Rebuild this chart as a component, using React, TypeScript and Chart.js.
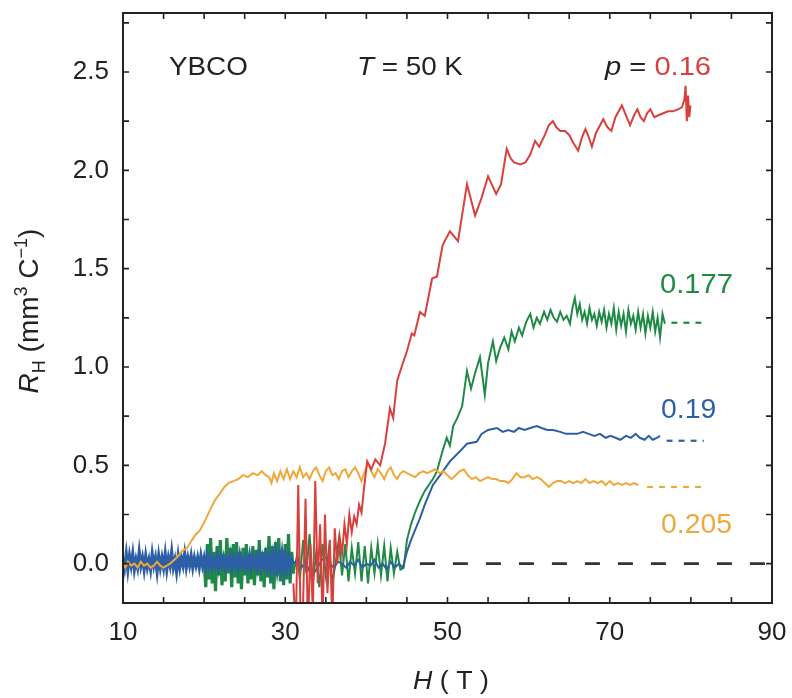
import React, { useEffect, useRef } from "react";
import { Chart, registerables } from "chart.js";

Chart.register(...registerables);

type P = [number, number];

// x axis (H, tesla) and y axis (R_H) ranges / tick marks / tick labels
const xRange: P = [10, 90];
const yRange: P = [-0.2, 2.8];
const xTickMarks = [10, 15, 20, 25, 30, 35, 40, 45, 50, 55, 60, 65, 70, 75, 80, 85, 90];
const yTickMarks = [0, 0.25, 0.5, 0.75, 1.0, 1.25, 1.5, 1.75, 2.0, 2.25, 2.5, 2.75];
const xLabelled = [10, 30, 50, 70, 90];
const yLabelled = [0, 0.5, 1.0, 1.5, 2.0, 2.5];

// p = 0.16 (red)
const red016: P[] = [
  [31.0, -0.1], [31.3, -0.35], [31.6, 0.4], [31.9, -0.3], [32.2, -0.2], [32.5, 0.33], [32.8, -0.35],
  [33.1, 0.1], [33.4, -0.25], [33.7, 0.42], [34.0, -0.1], [34.3, 0.2], [34.6, -0.3], [34.9, 0.25],
  [35.2, -0.15], [35.5, 0.12], [35.8, -0.3], [36.1, 0.18], [36.4, 0.0], [36.7, 0.14], [37.0, 0.05],
  [37.3, 0.2], [37.6, 0.1], [37.9, 0.25], [38.2, 0.16], [38.5, 0.24], [38.8, 0.2], [39.1, 0.3],
  [39.4, 0.26], [39.7, 0.38], [40.1, 0.52], [40.6, 0.48], [41.1, 0.53], [41.7, 0.5], [42.3, 0.61],
  [42.9, 0.79], [43.3, 0.74], [43.8, 0.93], [44.5, 1.02], [45.0, 1.08], [45.6, 1.17], [45.9, 1.16],
  [46.6, 1.28], [47.2, 1.26], [48.1, 1.45], [48.7, 1.46], [49.4, 1.62], [50.3, 1.69], [51.3, 1.64],
  [52.4, 1.93], [53.4, 1.77], [54.2, 1.86], [55.0, 1.97], [56.0, 1.88], [56.6, 1.93], [57.3, 2.11],
  [57.8, 2.06], [58.2, 2.04], [59.0, 2.03], [59.6, 2.04], [60.2, 2.08], [60.8, 2.15], [61.3, 2.12],
  [62.0, 2.18], [62.5, 2.23], [63.0, 2.25], [63.4, 2.22], [63.9, 2.2], [64.5, 2.2], [65.0, 2.18],
  [65.5, 2.14], [66.1, 2.1], [66.6, 2.17], [67.0, 2.21], [67.4, 2.17], [67.8, 2.12], [68.3, 2.19],
  [69.2, 2.26], [69.7, 2.22], [70.2, 2.2], [70.7, 2.27], [71.5, 2.33], [72.0, 2.28], [72.5, 2.23],
  [73.0, 2.28], [73.4, 2.31], [73.8, 2.27], [74.2, 2.25], [74.6, 2.29], [75.0, 2.31], [75.5, 2.27],
  [76.0, 2.28], [76.6, 2.29], [77.2, 2.3], [77.8, 2.3], [78.4, 2.31], [78.9, 2.32], [79.2, 2.36],
  [79.35, 2.43], [79.5, 2.25], [79.65, 2.38], [79.8, 2.27], [79.95, 2.33],
];

// p = 0.177 (green)
const green0177: P[] = [
  [20.0, 0.02], [20.2, -0.12], [20.4, 0.1], [20.6, -0.08], [20.8, 0.13], [21.0, -0.1], [21.2, 0.06],
  [21.4, -0.14], [21.6, 0.09], [21.8, -0.06], [22.0, 0.12], [22.2, -0.11], [22.4, 0.05], [22.6, -0.09],
  [22.8, 0.13], [23.0, -0.05], [23.2, 0.08], [23.4, -0.12], [23.6, 0.1], [23.8, -0.07], [24.0, 0.11],
  [24.2, -0.1], [24.4, 0.06], [24.6, -0.13], [24.8, 0.08], [25.0, -0.06], [25.2, 0.1], [25.4, -0.1],
  [25.6, 0.05], [25.8, -0.08], [26.0, 0.09], [26.2, -0.11], [26.4, 0.07], [26.6, -0.06], [26.8, 0.12],
  [27.0, -0.09], [27.2, 0.06], [27.4, -0.12], [27.6, 0.08], [27.8, -0.07], [28.0, 0.14], [28.2, -0.1],
  [28.4, 0.09], [28.6, -0.13], [28.8, 0.11], [29.0, -0.06], [29.2, 0.13], [29.4, -0.09], [29.6, 0.07],
  [29.8, -0.11], [30.0, 0.1], [30.2, -0.08], [30.4, 0.15], [30.6, -0.1], [30.8, 0.06], [31.0, -0.05],
  [31.5, 0.05], [31.8, -0.08], [32.2, 0.12], [32.6, -0.05], [33.0, 0.15], [33.4, -0.1], [33.8, 0.05],
  [34.2, -0.12], [34.6, 0.1], [35.0, -0.06], [35.4, 0.08], [35.8, -0.1], [36.2, 0.0], [36.6, 0.12],
  [37.0, -0.06], [37.4, 0.1], [37.8, -0.09], [38.2, 0.08], [38.6, -0.05], [39.0, 0.11], [39.4, -0.09],
  [39.8, 0.09], [40.2, -0.1], [40.6, 0.08], [41.0, -0.05], [41.4, 0.1], [41.8, -0.06], [42.2, 0.09],
  [42.6, -0.09], [43.0, 0.08], [43.4, -0.05], [43.8, 0.06], [44.2, -0.03], [44.6, -0.02], [45.0, 0.12],
  [45.5, 0.2], [46.0, 0.26], [46.6, 0.32], [47.2, 0.37], [47.7, 0.4], [48.2, 0.43], [48.7, 0.47],
  [49.3, 0.56], [49.9, 0.64], [50.3, 0.6], [50.7, 0.7], [51.2, 0.74], [51.8, 0.8], [52.4, 0.98],
  [52.9, 0.89], [53.4, 0.97], [54.0, 1.05], [54.6, 0.86], [55.0, 1.02], [55.6, 1.13], [56.0, 1.03],
  [56.5, 1.1], [57.0, 1.15], [57.5, 1.09], [57.9, 1.18], [58.3, 1.13], [58.8, 1.2], [59.2, 1.16],
  [59.7, 1.23], [60.2, 1.27], [60.6, 1.2], [61.0, 1.25], [61.4, 1.22], [61.9, 1.28], [62.3, 1.24],
  [62.7, 1.29], [63.1, 1.25], [63.5, 1.23], [63.9, 1.28], [64.3, 1.24], [64.7, 1.26], [65.1, 1.22],
  [65.4, 1.3], [65.7, 1.35], [66.0, 1.27], [66.3, 1.32], [66.6, 1.24], [66.9, 1.28], [67.2, 1.22],
  [67.5, 1.3], [67.8, 1.24], [68.1, 1.27], [68.4, 1.21], [68.7, 1.28], [69.0, 1.23], [69.3, 1.29],
  [69.6, 1.2], [69.9, 1.27], [70.2, 1.22], [70.5, 1.3], [70.8, 1.19], [71.1, 1.28], [71.4, 1.21],
  [71.7, 1.27], [72.0, 1.18], [72.3, 1.29], [72.6, 1.22], [72.9, 1.26], [73.2, 1.19], [73.5, 1.28],
  [73.8, 1.2], [74.1, 1.27], [74.4, 1.17], [74.7, 1.26], [75.0, 1.2], [75.3, 1.28], [75.6, 1.18],
  [75.9, 1.25], [76.2, 1.15], [76.5, 1.27], [76.8, 1.22],
];
const green0177Ext: P[] = [[77.6, 1.225], [81.6, 1.225]];

// p = 0.19 (blue)
const blue019: P[] = [
  [10.0, 0.03], [10.2, -0.02], [10.4, 0.05], [10.6, -0.03], [10.8, 0.04], [11.0, -0.01], [11.2, 0.05],
  [11.4, -0.03], [11.6, 0.02], [11.8, -0.02], [12.0, 0.06], [12.2, -0.01], [12.4, 0.03], [12.6, -0.03],
  [12.8, 0.04], [13.0, -0.02], [13.2, 0.02], [13.4, -0.03], [13.6, 0.05], [13.8, -0.01], [14.0, 0.03],
  [14.2, -0.04], [14.4, 0.04], [14.6, -0.02], [14.8, 0.03], [15.0, -0.02], [15.2, 0.05], [15.4, -0.03],
  [15.6, 0.03], [15.8, -0.01], [16.0, 0.06], [16.2, -0.02], [16.4, 0.02], [16.6, -0.04], [16.8, 0.04],
  [17.0, -0.02], [17.2, 0.03], [17.4, -0.01], [17.6, 0.05], [17.8, -0.02], [18.0, 0.03], [18.2, -0.01],
  [18.4, 0.04], [18.6, -0.02], [18.8, 0.03], [19.0, -0.01], [19.2, 0.03], [19.4, -0.02], [19.6, 0.04],
  [19.8, -0.01], [20.0, 0.03], [20.2, -0.02], [20.4, 0.04], [20.6, -0.01], [20.8, 0.03], [21.0, -0.02],
  [21.2, 0.02], [21.4, -0.01], [21.6, 0.04], [21.8, -0.02], [22.0, 0.03], [22.2, -0.01], [22.4, 0.03],
  [22.6, -0.02], [22.8, 0.02], [23.0, -0.01], [23.2, 0.04], [23.4, -0.02], [23.6, 0.03], [23.8, -0.01],
  [24.0, 0.03], [24.2, -0.02], [24.4, 0.04], [24.6, -0.01], [24.8, 0.02], [25.0, -0.02], [25.2, 0.03],
  [25.4, -0.01], [25.6, 0.04], [25.8, -0.02], [26.0, 0.03], [26.2, -0.01], [26.4, 0.03], [26.6, -0.02],
  [26.8, 0.04], [27.0, -0.02], [27.2, 0.03], [27.4, -0.01], [27.6, 0.04], [27.8, -0.02], [28.0, 0.03],
  [28.2, -0.03], [28.4, 0.04], [28.6, -0.02], [28.8, 0.05], [29.0, -0.03], [29.2, 0.04], [29.4, -0.02],
  [29.6, 0.05], [29.8, -0.03], [30.0, 0.04], [30.2, -0.02], [30.4, 0.03], [30.6, -0.03], [30.8, 0.02],
  [31.0, 0.0], [31.5, 0.02], [32.0, -0.02], [32.5, 0.01], [33.0, -0.04], [33.5, -0.05], [34.0, -0.02],
  [34.5, 0.02], [35.0, 0.03], [35.5, 0.0], [36.0, -0.02], [36.5, 0.01], [37.0, 0.0], [37.5, -0.02],
  [38.0, 0.01], [38.5, -0.01], [39.0, 0.02], [39.5, -0.02], [40.0, 0.0], [40.5, -0.01], [41.0, 0.02],
  [41.5, -0.02], [42.0, 0.0], [42.5, -0.03], [43.0, 0.01], [43.5, -0.02], [44.0, 0.0], [44.5, -0.02],
  [45.0, 0.06], [45.5, 0.12], [46.0, 0.17], [46.6, 0.23], [47.2, 0.3], [47.7, 0.35], [48.2, 0.4],
  [49.1, 0.45], [50.3, 0.52], [51.5, 0.57], [52.4, 0.61], [53.6, 0.62], [54.2, 0.66], [55.0, 0.68],
  [56.1, 0.69], [56.8, 0.67], [57.5, 0.68], [58.2, 0.67], [58.8, 0.69], [59.5, 0.68], [60.2, 0.69],
  [61.0, 0.7], [61.6, 0.69], [62.3, 0.68], [63.0, 0.68], [63.9, 0.67], [64.6, 0.66], [65.3, 0.66],
  [66.0, 0.66], [66.7, 0.67], [67.4, 0.66], [68.1, 0.65], [68.8, 0.66], [69.5, 0.64], [70.1, 0.65],
  [70.7, 0.64], [71.3, 0.63], [72.0, 0.65], [72.6, 0.64], [73.2, 0.66], [73.7, 0.64], [74.3, 0.63],
  [74.8, 0.65], [75.3, 0.63], [75.8, 0.64], [76.2, 0.65],
];
const blue019Ext: P[] = [[77.0, 0.625], [81.6, 0.625]];

// p = 0.205 (orange)
const orange0205: P[] = [
  [10.0, 0.0], [10.3, -0.02], [10.6, 0.01], [11.0, -0.01], [11.4, 0.0], [11.8, -0.02], [12.2, 0.01],
  [12.6, -0.01], [13.0, 0.0], [13.4, -0.02], [13.8, -0.01], [14.2, 0.01], [14.6, -0.01], [15.0, -0.02],
  [15.4, -0.01], [15.8, 0.0], [16.2, 0.015], [16.6, 0.03], [17.0, 0.05], [17.5, 0.07], [17.9, 0.08],
  [18.5, 0.12], [19.0, 0.15], [19.5, 0.17], [20.0, 0.21], [20.7, 0.27], [21.3, 0.32], [22.0, 0.36],
  [22.5, 0.39], [23.0, 0.41], [23.6, 0.42], [24.2, 0.43], [24.8, 0.45], [25.4, 0.44], [26.0, 0.46],
  [26.6, 0.45], [27.1, 0.47], [27.6, 0.45], [28.0, 0.44], [28.3, 0.41], [28.6, 0.46], [29.0, 0.42],
  [29.4, 0.47], [29.8, 0.43], [30.2, 0.48], [30.6, 0.43], [31.0, 0.47], [31.4, 0.44], [31.8, 0.49],
  [32.2, 0.44], [32.6, 0.46], [33.0, 0.43], [33.4, 0.47], [33.8, 0.49], [34.2, 0.45], [34.6, 0.42],
  [35.0, 0.47], [35.4, 0.49], [35.8, 0.45], [36.2, 0.46], [36.6, 0.43], [37.0, 0.47], [37.4, 0.48],
  [37.8, 0.44], [38.2, 0.47], [38.6, 0.49], [39.0, 0.46], [39.4, 0.42], [39.8, 0.47], [40.2, 0.51],
  [40.6, 0.47], [41.0, 0.44], [41.4, 0.48], [41.8, 0.46], [42.2, 0.43], [42.6, 0.47], [43.0, 0.49],
  [43.4, 0.45], [43.8, 0.43], [44.2, 0.46], [44.6, 0.47], [45.0, 0.46], [45.5, 0.45], [46.0, 0.44],
  [46.5, 0.46], [47.0, 0.47], [47.5, 0.46], [48.0, 0.47], [48.5, 0.48], [49.0, 0.46], [49.5, 0.47],
  [50.0, 0.45], [50.5, 0.43], [51.0, 0.45], [51.5, 0.47], [52.0, 0.48], [52.5, 0.45], [53.0, 0.43],
  [53.5, 0.44], [54.0, 0.42], [54.5, 0.43], [55.0, 0.44], [55.5, 0.43], [56.0, 0.43], [56.5, 0.42],
  [57.0, 0.42], [57.5, 0.41], [58.0, 0.43], [58.5, 0.46], [59.0, 0.44], [59.5, 0.44], [60.0, 0.45],
  [60.5, 0.43], [61.0, 0.44], [61.5, 0.43], [62.0, 0.41], [62.5, 0.39], [63.0, 0.41], [63.5, 0.42],
  [64.0, 0.42], [64.5, 0.41], [65.0, 0.42], [65.5, 0.41], [66.0, 0.42], [66.5, 0.41], [67.0, 0.43],
  [67.5, 0.41], [68.0, 0.42], [68.5, 0.41], [69.0, 0.42], [69.5, 0.40], [70.0, 0.42], [70.5, 0.40],
  [71.0, 0.41], [71.5, 0.40], [72.0, 0.41], [72.5, 0.40], [73.0, 0.41], [73.5, 0.40],
];
const orange0205Ext: P[] = [[74.6, 0.39], [81.6, 0.39]];

// zero reference line
const zeroLine: P[] = [[46.6, 0], [90, 0]];

const RED = "#d8403e";
const GREEN = "#1f8a45";
const BLUE = "#2d5fa6";
const ORANGE = "#f0a73a";
const INK = "#222222";
const FAMILY = '"Liberation Sans", Arial, Helvetica, sans-serif';
const FS = 26;

type Run = { t: string; c?: string; it?: boolean; s?: number; dy?: number };

function runsWidth(ctx: CanvasRenderingContext2D, runs: Run[], base: number) {
  let w = 0;
  for (const r of runs) {
    ctx.font = `${r.it ? "italic " : ""}${r.s ?? base}px ${FAMILY}`;
    w += ctx.measureText(r.t).width;
  }
  return w;
}

function drawRuns(
  ctx: CanvasRenderingContext2D,
  runs: Run[],
  x: number,
  y: number,
  base = FS,
  sx = 1
) {
  ctx.save();
  ctx.translate(x, y);
  ctx.scale(sx, 1);
  let cx = 0;
  ctx.textBaseline = "alphabetic";
  ctx.textAlign = "left";
  for (const r of runs) {
    ctx.font = `${r.it ? "italic " : ""}${r.s ?? base}px ${FAMILY}`;
    ctx.fillStyle = r.c ?? INK;
    ctx.fillText(r.t, cx, r.dy ?? 0);
    cx += ctx.measureText(r.t).width;
  }
  ctx.restore();
}

const overlay = {
  id: "overlay",
  afterDraw(chart: any) {
    const { ctx, chartArea, scales } = chart;
    const { left, right, top, bottom } = chartArea;
    const xs = scales.x;
    const ys = scales.y;
    ctx.save();
    // inward tick marks on all four sides
    ctx.strokeStyle = INK;
    ctx.lineWidth = 1.6;
    ctx.beginPath();
    for (const t of xs.ticks) {
      const px = xs.getPixelForValue(t.value);
      ctx.moveTo(px, bottom);
      ctx.lineTo(px, bottom - 6);
      ctx.moveTo(px, top);
      ctx.lineTo(px, top + 6);
    }
    for (const t of ys.ticks) {
      const py = ys.getPixelForValue(t.value);
      ctx.moveTo(left, py);
      ctx.lineTo(left + 6, py);
      ctx.moveTo(right, py);
      ctx.lineTo(right - 6, py);
    }
    ctx.stroke();
    // frame
    ctx.lineWidth = 2;
    ctx.strokeRect(left, top, right - left, bottom - top);

    // annotations
    const AS = 1.07;
    drawRuns(ctx, [{ t: "YBCO" }], 169, 75, 26, AS);
    drawRuns(ctx, [{ t: "T", it: true }, { t: " = 50 K" }], 357, 75, 26, AS);
    drawRuns(ctx, [{ t: "p", it: true }, { t: " = " }, { t: "0.16", c: RED }], 605, 75, 26, 1.12);
    drawRuns(ctx, [{ t: "0.177", c: GREEN }], 660, 293, 27, 1.08);
    drawRuns(ctx, [{ t: "0.19", c: BLUE }], 661, 418, 27, 1.05);
    drawRuns(ctx, [{ t: "0.205", c: ORANGE }], 661, 533, 27, 1.05);

    // x-axis title
    drawRuns(ctx, [{ t: "H", it: true }, { t: " ( T )" }], 413, 689, 26, 1.03);

    // y-axis title (rotated)
    const yRuns: Run[] = [
      { t: "R", it: true },
      { t: "H", s: 18, dy: 7 },
      { t: " (mm" },
      { t: "3", s: 18, dy: -11 },
      { t: " C" },
      { t: "\u22121", s: 18, dy: -11 },
      { t: ")" },
    ];
    ctx.translate(38, 311);
    ctx.rotate(-Math.PI / 2);
    const w = runsWidth(ctx, yRuns, 28);
    drawRuns(ctx, yRuns, -w / 2, 0, 28);
    ctx.restore();
  },
};

function line(data: P[], color: string, width: number, order: number, dash?: number[], noisyUntil?: number) {
  return {
    data: data.map(([x, y]) => ({ x, y })),
    borderColor: color,
    borderWidth: width,
    borderDash: dash ?? [],
    pointRadius: 0,
    tension: 0,
    fill: false,
    order,
    segment: noisyUntil
      ? { borderWidth: (c: any) => (c.p1.parsed.x <= noisyUntil ? 3.2 : undefined) }
      : undefined,
  };
}

export default function App() {
  const ref = useRef<HTMLCanvasElement | null>(null);
  useEffect(() => {
    if (!ref.current) return;
    const chart = new Chart(ref.current, {
      type: "line",
      data: {
        datasets: [
          line(zeroLine, "#333333", 2.6, 5, [15, 18]),
          line(red016, RED, 2, 0),
          line(orange0205, ORANGE, 2, 1),
          line(orange0205Ext, ORANGE, 2.2, 1, [6, 6]),
          line(blue019, BLUE, 2, 2, undefined, 31),
          line(blue019Ext, BLUE, 2.2, 2, [6, 6]),
          line(green0177, GREEN, 2, 3, undefined, 31),
          line(green0177Ext, GREEN, 2.2, 3, [6, 6]),
        ] as any,
      },
      options: {
        animation: false,
        responsive: true,
        maintainAspectRatio: false,
        layout: { padding: { top: 13, right: 20, left: 0, bottom: 0 } },
        plugins: { legend: { display: false }, tooltip: { enabled: false } },
        scales: {
          x: {
            type: "linear",
            min: xRange[0],
            max: xRange[1],
            grid: { display: false, drawTicks: false },
            border: { display: false },
            afterBuildTicks: (s: any) => {
              s.ticks = xTickMarks.map((v) => ({ value: v }));
            },
            afterFit: (s: any) => {
              s.height = 95;
              s.paddingLeft = 0;
              s.paddingRight = 0;
            },
            ticks: {
              padding: 14,
              maxRotation: 0,
              autoSkip: false,
              color: INK,
              font: { family: FAMILY, size: FS },
              callback: (v: any) => (xLabelled.includes(Number(v)) ? String(v) : ""),
            },
          },
          y: {
            type: "linear",
            min: yRange[0],
            max: yRange[1],
            grid: { display: false, drawTicks: false },
            border: { display: false },
            afterBuildTicks: (s: any) => {
              s.ticks = yTickMarks.map((v) => ({ value: v }));
            },
            afterFit: (s: any) => {
              s.width = 123;
              s.paddingTop = 0;
              s.paddingBottom = 0;
            },
            ticks: {
              padding: 14,
              autoSkip: false,
              color: INK,
              font: { family: FAMILY, size: FS },
              callback: (v: any) => {
                const n = Number(v);
                const hit = yLabelled.find((l) => Math.abs(l - n) < 1e-6);
                return hit === undefined ? "" : hit.toFixed(1);
              },
            },
          },
        },
      },
      plugins: [overlay],
    });
    return () => chart.destroy();
  }, []);
  return (
    <div style={{ position: "fixed", left: 0, top: 0, width: 792, height: 698, background: "#fff" }}>
      <canvas ref={ref} />
    </div>
  );
}
